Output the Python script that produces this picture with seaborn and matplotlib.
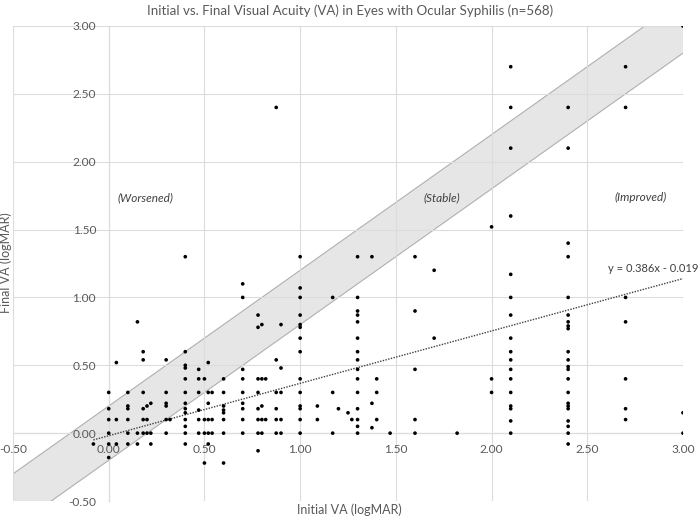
import numpy as np
import matplotlib
matplotlib.use("Agg")
import matplotlib.pyplot as plt
import seaborn as sns

# Initial vs final VA (logMAR), grouped by initial value
initial_va = (
    [-0.08]
    + [0.0] * 6 + [0.04] * 3 + [0.1] * 6 + [0.15] * 3 + [0.18] * 6
    + [0.2] * 3 + [0.22] * 3 + [0.3] * 6 + [0.32] * 1 + [0.4] * 13
    + [0.47] * 6 + [0.5] * 4 + [0.52] * 6 + [0.54] * 3 + [0.6] * 8
    + [0.7] * 9 + [0.78] * 8 + [0.8] * 5 + [0.82] * 2 + [0.875] * 6
    + [0.9] * 5 + [1.0] * 14 + [1.09] * 2 + [1.17] * 3 + [1.2] * 1
    + [1.25] * 1 + [1.27] * 1 + [1.3] * 15 + [1.375] * 3 + [1.4] * 3
    + [1.47] * 1 + [1.6] * 5 + [1.7] * 2 + [1.82] * 1 + [2.0] * 3
    + [2.1] * 17 + [2.4] * 22 + [2.7] * 7 + [3.0] * 3
)
final_va = [
    -0.08,
    0.3, 0.18, 0.1, 0.0, -0.08, -0.18,
    0.52, 0.1, -0.08,
    0.3, 0.2, 0.18, 0.1, 0.0, -0.08,
    0.82, 0.0, -0.08,
    0.6, 0.54, 0.3, 0.18, 0.1, 0.0,
    0.2, 0.1, 0.0,
    0.22, 0.0, -0.08,
    0.54, 0.3, 0.22, 0.2, 0.1, 0.0,
    0.1,
    1.3, 0.6, 0.5, 0.48, 0.4, 0.3, 0.22, 0.18, 0.15, 0.1, 0.05, 0.0, -0.08,
    0.47, 0.4, 0.3, 0.17, 0.1, 0.0,
    0.4, 0.1, 0.0, -0.22,
    0.52, 0.3, 0.22, 0.1, 0.0, -0.08,
    0.3, 0.1, 0.0,
    0.4, 0.3, 0.2, 0.17, 0.15, 0.1, 0.0, -0.22,
    1.1, 1.0, 0.47, 0.4, 0.3, 0.22, 0.18, 0.1, 0.0,
    0.87, 0.78, 0.4, 0.3, 0.18, 0.1, 0.0, -0.13,
    0.8, 0.4, 0.2, 0.1, 0.0,
    0.4, 0.1,
    2.4, 0.54, 0.3, 0.18, 0.1, 0.0,
    0.8, 0.48, 0.3, 0.1, 0.0,
    1.3, 1.07, 1.0, 0.87, 0.8, 0.78, 0.7, 0.6, 0.4, 0.3, 0.2, 0.18, 0.1, 0.0,
    0.2, 0.1,
    1.0, 0.3, 0.0,
    0.18,
    0.15,
    0.1,
    1.3, 1.0, 0.9, 0.87, 0.82, 0.7, 0.6, 0.54, 0.47, 0.4, 0.3, 0.18, 0.1, 0.05, 0.0,
    1.3, 0.22, 0.04,
    0.4, 0.3, 0.1,
    0.0,
    1.3, 0.9, 0.47, 0.1, 0.0,
    1.2, 0.7,
    0.0,
    1.52, 0.4, 0.3,
    2.7, 2.4, 2.1, 1.6, 1.17, 1.0, 0.87, 0.7, 0.6, 0.54, 0.47, 0.4, 0.3, 0.2,
    0.18, 0.09, 0.0,
    2.4, 2.1, 1.4, 1.3, 1.0, 0.87, 0.82, 0.79, 0.77, 0.6, 0.54, 0.49, 0.47,
    0.4, 0.3, 0.22, 0.2, 0.18, 0.09, 0.05, 0.0, -0.08,
    2.7, 2.4, 1.0, 0.82, 0.4, 0.18, 0.1,
    3.0, 0.15, 0.0,
]
assert len(initial_va) == len(final_va)

# Linear trendline reported on the chart
trend_slope = 0.386
trend_intercept = -0.019

# Stable band: final within +/- 0.2 of initial
band_width = 0.2

axis_ticks = [-0.5, 0.0, 0.5, 1.0, 1.5, 2.0, 2.5, 3.0]
region_labels = ["(Worsened)", "(Stable)", "(Improved)"]
region_x = [0.19, 1.74, 2.78]

sns.set_theme(style="whitegrid")
plt.rcParams['font.family'] = ['Lato', 'DejaVu Sans']

fig = plt.figure(figsize=(6.99, 5.17), dpi=100)
ax = fig.add_axes([13 / 699, 1 - 501 / 517, 670 / 699, 475 / 517])
ax.set_facecolor('white')

# Stable band (kept under the axis so tick labels stay on top)
band_x = np.array([-0.5, 3.0])
ax.fill_between(band_x, band_x - band_width, band_x + band_width,
                facecolor='#e6e6e6', edgecolor='none', zorder=0.2)
ax.plot(band_x, band_x + band_width, color='#b0b0b0', lw=0.8, zorder=0.3)
ax.plot(band_x, band_x - band_width, color='#b0b0b0', lw=0.8, zorder=0.3)

# Trendline over the data range
trend_x = np.array([min(initial_va), max(initial_va)])
sns.lineplot(x=trend_x, y=trend_slope * trend_x + trend_intercept, ax=ax,
             color='#404040', lw=1.0, linestyle=(0, (1, 1)), zorder=3)

# Points
sns.scatterplot(x=initial_va, y=final_va, ax=ax, color='black', s=7,
                marker='o', edgecolor='none', zorder=4)

ax.set_xlim(-0.5, 3.0)
ax.set_ylim(-0.5, 3.0)
ax.set_xticks(axis_ticks)
ax.set_yticks(axis_ticks)
ax.set_xticklabels([f"{t:.2f}" for t in axis_ticks])
ax.set_yticklabels([f"{t:.2f}" for t in axis_ticks])
ax.grid(True, color='#dcdcdc', lw=0.8)
ax.set_axisbelow(True)

# Axes cross at zero, like the Excel original
for side in ['top', 'right']:
    ax.spines[side].set_visible(False)
ax.spines['left'].set_position(('data', 0))
ax.spines['bottom'].set_position(('data', 0))
for side in ['left', 'bottom']:
    ax.spines[side].set_color('#c8c8c8')
    ax.spines[side].set_linewidth(0.8)
    ax.spines[side].set_zorder(0.5)
ax.tick_params(axis='both', length=0, labelsize=8.6, labelcolor='#595959')
ax.tick_params(axis='y', pad=9)
ax.tick_params(axis='x', pad=8)

# Region labels and trend equation
for label, xpos in zip(region_labels, region_x):
    ax.text(xpos, 1.735, label, fontsize=8.5, style='italic',
            color='#404040', ha='center', va='center')
ax.text(3.08, 1.21, f"y = {trend_slope}x - {abs(trend_intercept)}",
        fontsize=8, color='#404040', ha='right', va='center')

fig.text(350 / 699, 1 - 11 / 517,
         "Initial vs. Final Visual Acuity (VA) in Eyes with Ocular Syphilis (n=568)",
         fontsize=9.6, color='#595959', ha='center', va='center')
fig.text(349 / 699, 1 - 510 / 517, "Initial VA (logMAR)",
         fontsize=9, color='#595959', ha='center', va='center')
fig.text(6 / 699, 1 - 263 / 517, "Final VA (logMAR)", rotation=90,
         fontsize=9, color='#595959', ha='center', va='center')

fig.savefig('out.png', dpi=100)
plt.close(fig)
